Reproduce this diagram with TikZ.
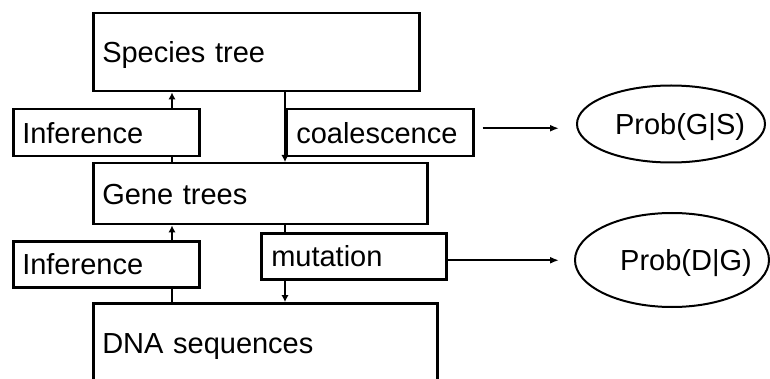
\documentclass[tikz,border=0pt]{standalone}
\usepackage{fontspec}
\setmainfont{Liberation Sans}
\usetikzlibrary{shapes.geometric,arrows.meta,calc}
\begin{document}
\begin{tikzpicture}[x=1pt,y=-1pt,
  lbl/.style={font=\fontsize{29}{32}\selectfont,text height=21pt,text depth=0pt},
  blk/.style={lbl,draw,line width=2.5pt,rectangle,anchor=north west,
              inner xsep=9pt,inner ysep=0pt,align=left},
  oval/.style={lbl,draw,ellipse,line width=2pt,inner sep=0pt},
  link/.style={line width=2.2pt},
  arr/.style={link,-{Latex[length=7pt,width=7.5pt]}},
  bigarr/.style={link,-{Latex[length=9pt,width=7pt]}}]
\useasboundingbox (0,0) rectangle (770,379);
\clip (0,0) rectangle (770,379);

% levels of the model
\node[blk,minimum height=78pt,text width=308pt] (species) at (92,12) {Species tree};
\node[blk,minimum height=61pt,text width=316pt] (gene) at (92,162) {Gene trees};
\node[blk,minimum height=80pt,text width=326pt] (dna) at (92,302) {DNA sequences};

% processes between the levels
\node[blk,minimum height=47pt,text width=168pt] (inf1) at (12,108) {Inference};
\node[blk,minimum height=47pt,inner xsep=10pt,text width=167pt] (coal) at (285,108) {coalescence};
\node[blk,minimum height=46pt,text width=168pt] (inf2) at (12,240) {Inference};
\node[blk,minimum height=46pt,inner xsep=10pt,text width=165pt] (mut) at (260,232) {mutation};

% probabilities
\node[oval,minimum width=188pt,minimum height=77pt] (pgs) at (671,124)
  {\makebox[0pt]{\hspace*{18pt}Prob(G|S)}};
\node[oval,minimum width=194pt,minimum height=94pt] (pdg) at (672,260)
  {\makebox[0pt]{\hspace*{28pt}Prob(D|G)}};

% inference arrows (upwards)
\path ($(inf1.north west)+(160,0)$) coordinate (i1t)
      ($(inf1.south west)+(160,0)$) coordinate (i1b)
      ($(inf2.north west)+(160,0)$) coordinate (i2t)
      ($(inf2.south west)+(160,0)$) coordinate (i2b);
\draw[arr] (i1t) -- (i1t |- species.south);
\draw[link] (i1b) -- (i1b |- gene.north);
\draw[arr] (i2t) -- (i2t |- gene.south);
\draw[link] (i2b) -- (i2b |- dna.north);

% generative arrows (downwards)
\draw[arr] (coal.west |- species.south) -- (coal.west |- gene.north);
\draw[link] (coal.west |- gene.south) -- (coal.west |- mut.north);
\draw[arr] (coal.west |- mut.south) -- (coal.west |- dna.north);

% arrows to the probabilities
\path ($(coal.east)+(8,-4.5)$) coordinate (c1)
      ($(mut.east)+(0,4)$) coordinate (m1);
\draw[bigarr,shorten >=17pt] (c1) -- (c1 -| pgs.west);
\draw[bigarr,shorten >=15pt] (m1) -- (m1 -| pdg.west);
\end{tikzpicture}
\end{document}
